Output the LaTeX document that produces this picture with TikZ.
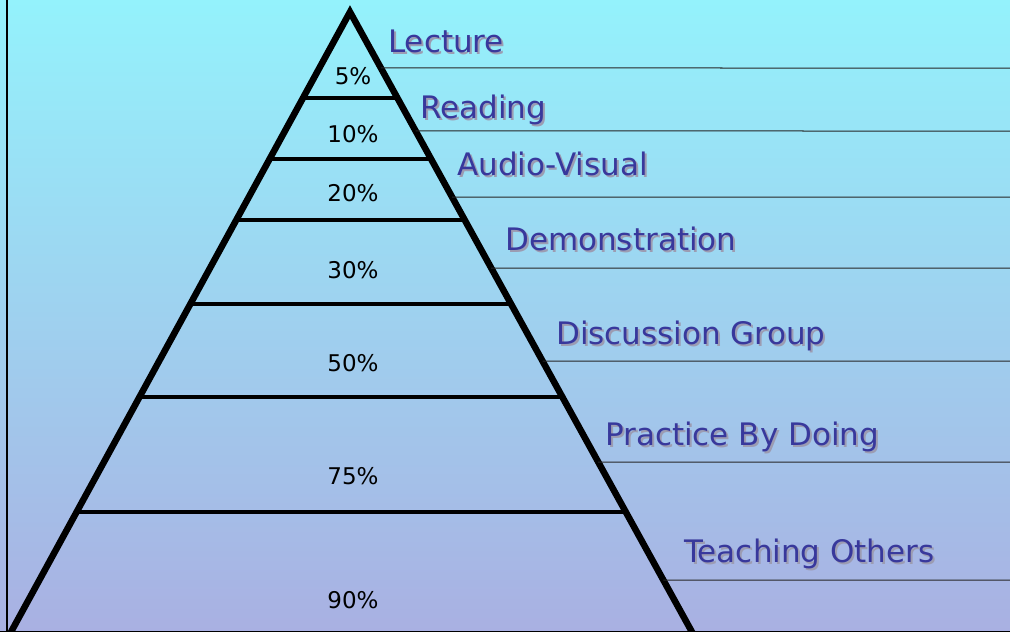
\documentclass[tikz,border=0pt]{standalone}
\usepackage{fontspec}
\setmainfont{DejaVu Sans}
\usetikzlibrary{calc}

\definecolor{skytop}{HTML}{94F2FC}
\definecolor{skymid}{HTML}{A6D8F8}
\definecolor{skybot}{HTML}{A9B0E2}
\definecolor{labelblue}{HTML}{38389C}
\definecolor{labelshade}{HTML}{9C9CB2}

\tikzset{
  level/.style={inner sep=0pt, anchor=base west, text=labelblue,
    font=\fontsize{31}{31}\selectfont},
  levelshadow/.style={level, text=labelshade},
  pct/.style={inner sep=0pt, font=\fontsize{23}{23}\selectfont},
  edge/.style={line width=6.5pt, line join=miter},
  tier/.style={line width=4pt},
  rule/.style={line width=1pt, black!85}
}

\begin{document}
\begin{tikzpicture}[x=1pt,y=-1pt]
  \useasboundingbox (0,0) rectangle (1010,632);
  \clip (0,0) rectangle (1010,632);
  % background
  \shade[top color=skytop, middle color=skymid, bottom color=skybot]
    (0,0) rectangle (1010,632);
  \draw[line width=2pt] (7,0) -- (7,632);
  \draw[line width=1pt] (0,631.5) -- (1010,631.5);

  % pyramid
  \coordinate (apex) at (350,12);
  \coordinate (bl) at (11,632);
  \coordinate (br) at (692,632);
  \foreach \y in {98,159,220,304,397,512}
    \draw[tier] ($(apex)!{(\y-12)/620}!(bl)$) -- ($(apex)!{(\y-12)/620}!(br)$);
  \draw[edge] ($(apex)!1.03!(bl)$) -- (apex) -- ($(apex)!1.03!(br)$);

  % rules to the right
  \foreach \y [count=\i] in {68,131,197,268,361,462,580}
    \draw[rule] ($(apex)!{(\y-12)/620}!(br)$) coordinate (r\i) -- (1010,\y);

  % percentages
  \foreach \y/\t [count=\i] in {76/5\%,134/10\%,193/20\%,270/30\%,363/50\%,476/75\%,600/90\%}
    \node[pct] (p\i) at (353,\y) {\t};

  % level names
  \foreach \x/\y/\t [count=\i] in {388/52/Lecture,420/118/Reading,457/175/Audio-Visual,
      505/250/Demonstration,556/344/Discussion Group,605/445/Practice By Doing,
      684/562/Teaching Others}
  {
    \node[levelshadow] at (\x+2,\y+2) {\t};
    \node[level] (l\i) at (\x,\y) {\t};
  }
\end{tikzpicture}
\end{document}
